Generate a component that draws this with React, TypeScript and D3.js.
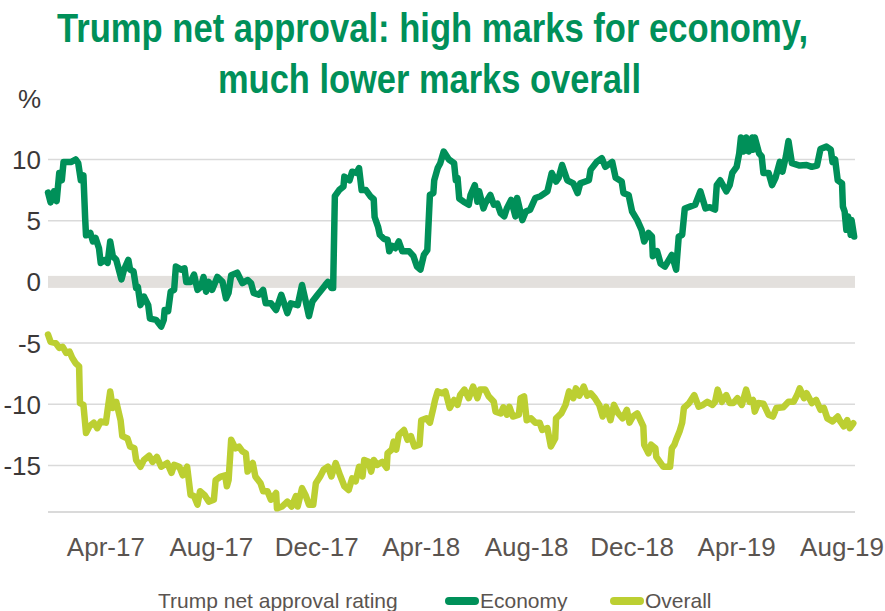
import { useEffect, useRef } from 'react';
import * as d3 from 'd3';

const ECON_COLOR = '#009059';
const OVERALL_COLOR = '#BCCF32';

const economyDates = [
  '2017-01-24', '2017-01-27', '2017-01-31', '2017-02-03', '2017-02-06', '2017-02-09', '2017-02-11', '2017-02-20',
  '2017-02-25', '2017-02-28', '2017-03-03', '2017-03-06', '2017-03-08', '2017-03-09', '2017-03-14', '2017-03-17',
  '2017-03-20', '2017-03-24', '2017-03-26', '2017-03-31', '2017-04-03', '2017-04-06', '2017-04-09', '2017-04-13',
  '2017-04-16', '2017-04-19', '2017-04-22', '2017-04-27', '2017-04-29', '2017-05-03', '2017-05-06', '2017-05-08',
  '2017-05-11', '2017-05-15', '2017-05-20', '2017-05-22', '2017-05-29', '2017-06-04', '2017-06-07', '2017-06-08',
  '2017-06-12', '2017-06-15', '2017-06-19', '2017-06-21', '2017-06-27', '2017-07-01', '2017-07-03', '2017-07-08',
  '2017-07-12', '2017-07-16', '2017-07-20', '2017-07-23', '2017-07-26', '2017-07-29', '2017-08-02', '2017-08-08',
  '2017-08-14', '2017-08-18', '2017-08-21', '2017-08-24', '2017-08-31', '2017-09-06', '2017-09-12', '2017-09-16',
  '2017-09-19', '2017-09-25', '2017-09-30', '2017-10-03', '2017-10-09', '2017-10-15', '2017-10-21', '2017-10-28',
  '2017-11-01', '2017-11-09', '2017-11-14', '2017-11-18', '2017-11-22', '2017-11-26', '2017-12-02', '2017-12-06',
  '2017-12-11', '2017-12-14', '2017-12-18', '2017-12-20', '2017-12-22', '2017-12-27', '2018-01-01', '2018-01-02',
  '2018-01-08', '2018-01-11', '2018-01-16', '2018-01-19', '2018-01-22', '2018-01-27', '2018-02-01', '2018-02-05',
  '2018-02-06', '2018-02-10', '2018-02-12', '2018-02-17', '2018-02-21', '2018-02-23', '2018-02-26', '2018-03-02',
  '2018-03-06', '2018-03-10', '2018-03-18', '2018-03-23', '2018-03-27', '2018-03-31', '2018-04-04', '2018-04-08',
  '2018-04-11', '2018-04-15', '2018-04-16', '2018-04-20', '2018-04-23', '2018-04-27', '2018-05-03', '2018-05-09',
  '2018-05-11', '2018-05-13', '2018-05-15', '2018-05-20', '2018-05-26', '2018-05-28', '2018-06-02', '2018-06-05',
  '2018-06-07', '2018-06-12', '2018-06-14', '2018-06-20', '2018-06-24', '2018-06-28', '2018-07-02', '2018-07-06',
  '2018-07-09', '2018-07-14', '2018-07-19', '2018-07-21', '2018-07-27', '2018-07-31', '2018-08-05', '2018-08-11',
  '2018-08-17', '2018-08-25', '2018-08-30', '2018-09-04', '2018-09-07', '2018-09-11', '2018-09-17', '2018-09-24',
  '2018-09-29', '2018-10-02', '2018-10-12', '2018-10-14', '2018-10-21', '2018-10-27', '2018-10-31', '2018-11-08',
  '2018-11-12', '2018-11-19', '2018-11-21', '2018-11-27', '2018-12-01', '2018-12-07', '2018-12-12', '2018-12-15',
  '2018-12-20', '2018-12-24', '2018-12-25', '2018-12-30', '2019-01-03', '2019-01-08', '2019-01-16', '2019-01-21',
  '2019-01-24', '2019-01-28', '2019-01-31', '2019-02-06', '2019-02-12', '2019-02-18', '2019-02-24', '2019-03-01',
  '2019-03-07', '2019-03-09', '2019-03-13', '2019-03-20', '2019-03-24', '2019-03-27', '2019-04-01', '2019-04-04',
  '2019-04-06', '2019-04-09', '2019-04-12', '2019-04-15', '2019-04-19', '2019-04-20', '2019-04-22', '2019-04-27',
  '2019-04-30', '2019-05-02', '2019-05-08', '2019-05-12', '2019-05-16', '2019-05-21', '2019-05-24', '2019-05-28',
  '2019-05-31', '2019-06-04', '2019-06-13', '2019-06-21', '2019-06-27', '2019-07-03', '2019-07-07', '2019-07-14',
  '2019-07-19', '2019-07-21', '2019-07-24', '2019-07-27', '2019-08-01', '2019-08-02', '2019-08-04', '2019-08-06',
  '2019-08-08', '2019-08-11', '2019-08-12', '2019-08-15',
];
const economyValues = [
  7.3, 6.5, 7.4, 6.6, 8.9, 8.3, 9.8, 9.8,
  10.0, 9.7, 8.3, 8.7, 5.2, 3.8, 4.0, 3.3,
  3.6, 2.75, 1.55, 1.8, 1.55, 3.3, 2.1, 1.8,
  1.0, 0.2, 1.0, 1.8, 1.0, 0.85, -0.5, -0.4,
  -1.9, -1.2, -1.9, -3.0, -3.1, -3.65, -3.1, -2.3,
  -2.4, -0.8, -0.65, 1.25, 1.0, 1.1, 0.0, 0.0,
  0.6, -0.65, -0.4, 0.4, -0.8, 0.0, -0.65, 0.4,
  0.0, -1.35, -0.9, 0.55, 0.75, -0.1, 0.15, -0.1,
  -0.9, -1.05, -0.65, -1.75, -1.75, -2.3, -1.05, -2.55,
  -1.75, -1.9, -0.25, -1.5, -2.8, -1.6, -1.05, -0.7,
  -0.25, 0.0, -0.5, -0.5, 7.0, 7.5, 7.8, 8.6,
  8.3, 9.0, 8.9, 9.3, 7.5, 7.5, 7.0, 6.75,
  5.3, 4.5, 3.85, 3.5, 3.45, 2.5, 2.95, 2.75,
  3.3, 2.5, 2.5, 2.1, 1.25, 1.0, 2.2, 2.6,
  7.1, 7.25, 8.3, 9.3, 9.7, 10.65, 10.0, 9.7,
  8.3, 8.5, 6.8, 6.55, 6.3, 7.1, 7.9, 6.55,
  7.4, 6.0, 6.4, 7.1, 6.3, 6.4, 5.6, 5.35,
  6.0, 6.7, 5.35, 6.85, 5.05, 5.75, 5.9, 6.85,
  7.0, 7.4, 8.9, 8.2, 8.5, 9.55, 8.3, 8.05,
  7.25, 8.05, 8.3, 9.15, 9.8, 10.1, 9.4, 9.8,
  8.5, 8.2, 7.25, 7.1, 5.75, 5.05, 4.25, 3.3,
  4.0, 3.7, 2.1, 2.5, 1.5, 1.25, 2.2, 1.0,
  3.7, 3.85, 6.0, 6.15, 6.3, 7.4, 6.0, 6.1,
  5.9, 7.9, 8.3, 7.4, 7.9, 8.9, 9.4, 10.5,
  11.8, 10.65, 11.8, 10.65, 11.8, 10.8, 11.8, 10.5,
  10.25, 8.9, 8.9, 7.9, 8.5, 9.8, 9.0, 10.25,
  11.5, 9.7, 9.5, 9.55, 9.4, 9.5, 10.85, 11.05,
  10.8, 9.8, 10.0, 8.3, 8.05, 6.15, 5.75, 4.25,
  5.35, 3.85, 5.05, 3.7,
];

const overallDates = [
  '2017-01-24', '2017-01-27', '2017-02-02', '2017-02-06', '2017-02-10', '2017-02-14', '2017-02-18', '2017-02-21',
  '2017-02-25', '2017-03-01', '2017-03-02', '2017-03-06', '2017-03-09', '2017-03-13', '2017-03-18', '2017-03-22',
  '2017-03-26', '2017-04-01', '2017-04-03', '2017-04-06', '2017-04-09', '2017-04-13', '2017-04-18', '2017-04-20',
  '2017-04-26', '2017-04-29', '2017-05-04', '2017-05-06', '2017-05-11', '2017-05-15', '2017-05-21', '2017-05-25',
  '2017-05-30', '2017-06-04', '2017-06-11', '2017-06-16', '2017-06-19', '2017-06-25', '2017-06-29', '2017-07-04',
  '2017-07-08', '2017-07-12', '2017-07-16', '2017-07-19', '2017-07-24', '2017-07-29', '2017-08-04', '2017-08-06',
  '2017-08-12', '2017-08-17', '2017-08-19', '2017-08-21', '2017-08-24', '2017-08-29', '2017-09-02', '2017-09-06',
  '2017-09-10', '2017-09-12', '2017-09-18', '2017-09-21', '2017-09-27', '2017-09-30', '2017-10-05', '2017-10-09',
  '2017-10-15', '2017-10-16', '2017-10-22', '2017-10-28', '2017-11-02', '2017-11-07', '2017-11-09', '2017-11-14',
  '2017-11-18', '2017-11-22', '2017-11-27', '2017-11-30', '2017-12-05', '2017-12-09', '2017-12-14', '2017-12-18',
  '2017-12-23', '2017-12-28', '2018-01-02', '2018-01-07', '2018-01-11', '2018-01-15', '2018-01-19', '2018-01-23',
  '2018-01-25', '2018-01-30', '2018-02-02', '2018-02-05', '2018-02-09', '2018-02-15', '2018-02-20', '2018-02-21',
  '2018-02-26', '2018-02-28', '2018-03-03', '2018-03-06', '2018-03-12', '2018-03-16', '2018-03-20', '2018-03-24',
  '2018-03-30', '2018-04-01', '2018-04-07', '2018-04-11', '2018-04-15', '2018-04-17', '2018-04-20', '2018-04-25',
  '2018-04-29', '2018-05-04', '2018-05-09', '2018-05-13', '2018-05-16', '2018-05-21', '2018-05-26', '2018-05-31',
  '2018-06-05', '2018-06-08', '2018-06-14', '2018-06-18', '2018-06-24', '2018-06-26', '2018-07-02', '2018-07-05',
  '2018-07-09', '2018-07-12', '2018-07-16', '2018-07-23', '2018-07-25', '2018-07-29', '2018-08-01', '2018-08-06',
  '2018-08-11', '2018-08-16', '2018-08-19', '2018-08-25', '2018-08-29', '2018-09-03', '2018-09-04', '2018-09-10',
  '2018-09-15', '2018-09-19', '2018-09-24', '2018-09-27', '2018-10-01', '2018-10-06', '2018-10-10', '2018-10-14',
  '2018-10-19', '2018-10-24', '2018-10-28', '2018-11-01', '2018-11-06', '2018-11-10', '2018-11-15', '2018-11-20',
  '2018-11-25', '2018-11-28', '2018-12-02', '2018-12-07', '2018-12-14', '2018-12-15', '2018-12-20', '2018-12-23',
  '2018-12-28', '2018-12-29', '2019-01-06', '2019-01-14', '2019-01-16', '2019-01-19', '2019-01-21', '2019-01-25',
  '2019-01-28', '2019-01-30', '2019-02-05', '2019-02-11', '2019-02-16', '2019-02-21', '2019-02-26', '2019-03-04',
  '2019-03-07', '2019-03-10', '2019-03-15', '2019-03-20', '2019-03-24', '2019-03-28', '2019-04-02', '2019-04-07',
  '2019-04-12', '2019-04-16', '2019-04-20', '2019-04-22', '2019-04-26', '2019-05-02', '2019-05-08', '2019-05-13',
  '2019-05-17', '2019-05-25', '2019-05-31', '2019-06-06', '2019-06-10', '2019-06-13', '2019-06-18', '2019-06-21',
  '2019-06-27', '2019-07-02', '2019-07-07', '2019-07-11', '2019-07-15', '2019-07-21', '2019-07-27', '2019-07-30',
  '2019-08-03', '2019-08-07', '2019-08-10', '2019-08-14',
];
const overallValues = [
  -4.3, -4.9, -5.0, -5.4, -5.3, -5.8, -5.7, -6.2,
  -6.65, -6.9, -9.9, -10.05, -12.35, -11.8, -11.5, -11.95,
  -11.4, -11.5, -10.45, -8.95, -10.3, -9.8, -11.3, -12.6,
  -12.8, -13.45, -13.6, -14.55, -15.1, -14.55, -14.2, -14.7,
  -14.3, -15.1, -14.8, -15.6, -14.95, -15.1, -15.8, -15.1,
  -17.4, -17.5, -18.2, -17.1, -17.4, -17.95, -17.8, -16.2,
  -15.9, -15.8, -16.7, -16.2, -12.9, -13.6, -13.45, -13.85,
  -14.0, -15.5, -14.8, -15.9, -16.45, -17.1, -17.1, -17.8,
  -17.25, -18.5, -18.35, -17.95, -18.35, -17.5, -18.35, -16.85,
  -17.4, -18.2, -18.2, -16.45, -15.9, -15.35, -15.1, -15.9,
  -14.8, -15.8, -16.7, -17.0, -16.05, -16.3, -15.1, -15.9,
  -14.55, -14.7, -15.5, -14.55, -14.95, -14.7, -15.2, -14.0,
  -13.7, -13.05, -13.7, -12.5, -12.1, -12.9, -12.6, -13.45,
  -13.3, -11.3, -11.15, -11.5, -10.3, -9.65, -8.95, -9.1,
  -8.95, -10.3, -9.65, -10.05, -9.25, -8.8, -9.5, -8.55,
  -9.5, -8.8, -8.8, -9.35, -9.8, -10.6, -10.75, -10.25,
  -10.85, -10.2, -11.0, -10.85, -9.5, -9.35, -11.3, -11.15,
  -11.5, -11.5, -12.1, -11.95, -13.45, -12.8, -11.15, -10.75,
  -10.05, -8.95, -9.5, -8.7, -9.3, -8.55, -9.3, -9.1,
  -9.5, -10.05, -11.0, -10.2, -11.3, -10.05, -10.75, -11.15,
  -10.45, -11.5, -11.0, -10.75, -11.8, -13.3, -14.0, -13.3,
  -13.6, -14.3, -15.1, -15.1, -13.6, -13.3, -12.9, -12.2,
  -11.5, -10.3, -9.9, -9.25, -10.2, -10.05, -9.8, -10.05,
  -9.8, -8.8, -9.8, -9.25, -9.9, -9.9, -9.5, -10.05,
  -8.8, -9.8, -9.65, -10.6, -9.9, -9.95, -10.85, -11.0,
  -10.3, -10.25, -9.8, -9.8, -9.25, -8.7, -9.5, -9.1,
  -9.9, -9.65, -10.45, -10.3, -11.15, -11.4, -11.0, -11.4,
  -11.8, -11.3, -11.95, -11.55,
];

const tickDates = ['2017-04-01', '2017-08-01', '2017-12-01', '2018-04-01', '2018-08-01', '2018-12-01', '2019-04-01', '2019-08-01'];
const tickLabels = ['Apr-17', 'Aug-17', 'Dec-17', 'Apr-18', 'Aug-18', 'Dec-18', 'Apr-19', 'Aug-19'];
const yTicks = [10, 5, -5, -10, -15];
const titleLines = ['Trump net approval: high marks for economy,', 'much lower marks overall'];

export default function App() {
  const svgRef = useRef<SVGSVGElement>(null);

  useEffect(() => {
    if (!svgRef.current) return;
    const W = 885;
    const H = 611;
    const parse = d3.timeParse('%Y-%m-%d');

    const svg = d3.select(svgRef.current);
    svg.selectAll('*').remove();
    svg.attr('width', W).attr('height', H).attr('viewBox', `0 0 ${W} ${H}`);

    const x = d3.scaleTime()
      .domain([parse('2017-01-24')!, parse('2019-08-16')!])
      .range([48, 855]);
    const y = d3.scaleLinear().domain([-18.8, 12]).range([512, 135]);
    const [x0, x1] = x.range();

    // Title
    svg.append('text')
      .attr('x', 57).attr('y', 42)
      .attr('font-family', 'Liberation Sans, Arial, sans-serif')
      .attr('font-weight', 700).attr('font-size', 41)
      .attr('fill', ECON_COLOR)
      .attr('textLength', 751).attr('lengthAdjust', 'spacingAndGlyphs')
      .text(titleLines[0]);
    svg.append('text')
      .attr('x', 218).attr('y', 93)
      .attr('font-family', 'Liberation Sans, Arial, sans-serif')
      .attr('font-weight', 700).attr('font-size', 41)
      .attr('fill', ECON_COLOR)
      .attr('textLength', 423).attr('lengthAdjust', 'spacingAndGlyphs')
      .text(titleLines[1]);

    // Gridlines
    svg.append('g')
      .selectAll('line')
      .data(yTicks)
      .join('line')
      .attr('x1', x0).attr('x2', x1)
      .attr('y1', d => y(d)).attr('y2', d => y(d))
      .attr('stroke', '#DADADA').attr('stroke-width', 1.5);

    // zero band
    svg.append('rect')
      .attr('x', x0).attr('width', x1 - x0)
      .attr('y', y(0) - 6).attr('height', 12)
      .attr('fill', '#E3E0DD');

    // bottom axis line
    svg.append('line')
      .attr('x1', x0).attr('x2', x1)
      .attr('y1', y(-18.8)).attr('y2', y(-18.8))
      .attr('stroke', '#DADADA').attr('stroke-width', 2);

    // Y labels
    svg.append('g')
      .selectAll('text')
      .data([10, 5, 0, -5, -10, -15])
      .join('text')
      .attr('x', 41)
      .attr('y', d => y(d) + 9.5)
      .attr('text-anchor', 'end')
      .attr('font-family', 'Liberation Sans, Arial, sans-serif')
      .attr('font-size', 26)
      .attr('fill', '#3b3838')
      .text(d => String(d));
    svg.append('text')
      .attr('x', 41).attr('y', 108)
      .attr('text-anchor', 'end')
      .attr('font-family', 'Liberation Sans, Arial, sans-serif')
      .attr('font-size', 26)
      .attr('fill', '#3b3838')
      .text('%');

    // X labels
    svg.append('g')
      .selectAll('text')
      .data(tickDates)
      .join('text')
      .attr('x', d => x(parse(d)!))
      .attr('y', 556)
      .attr('text-anchor', 'middle')
      .attr('font-family', 'Liberation Sans, Arial, sans-serif')
      .attr('font-size', 26)
      .attr('fill', '#5a5450')
      .text((d, i) => tickLabels[i]);

    // Lines
    const line = d3.line<[Date, number]>()
      .x(d => x(d[0]))
      .y(d => y(d[1]));

    const overall: [Date, number][] = overallDates.map((d, i) => [parse(d)!, overallValues[i]]);
    const economy: [Date, number][] = economyDates.map((d, i) => [parse(d)!, economyValues[i]]);

    svg.append('path')
      .datum(overall)
      .attr('d', line)
      .attr('fill', 'none')
      .attr('stroke', OVERALL_COLOR)
      .attr('stroke-width', 6.5)
      .attr('stroke-linejoin', 'round')
      .attr('stroke-linecap', 'round');

    svg.append('path')
      .datum(economy)
      .attr('d', line)
      .attr('fill', 'none')
      .attr('stroke', ECON_COLOR)
      .attr('stroke-width', 6.5)
      .attr('stroke-linejoin', 'round')
      .attr('stroke-linecap', 'round');

    // Legend
    const lg = svg.append('g')
      .attr('font-family', 'Liberation Sans, Arial, sans-serif')
      .attr('font-size', 21)
      .attr('fill', '#5a5450');
    lg.append('text').attr('x', 158).attr('y', 608).text('Trump net approval rating');
    const items = [
      { label: 'Economy', color: ECON_COLOR, x: 445 },
      { label: 'Overall', color: OVERALL_COLOR, x: 610 },
    ];
    items.forEach(it => {
      lg.append('line')
        .attr('x1', it.x + 4).attr('x2', it.x + 30)
        .attr('y1', 601).attr('y2', 601)
        .attr('stroke', it.color)
        .attr('stroke-width', 8)
        .attr('stroke-linecap', 'round');
      lg.append('text').attr('x', it.x + 35).attr('y', 608).text(it.label);
    });
  }, []);

  return (
    <div style={{ position: 'absolute', left: 0, top: 0, background: '#fff' }}>
      <svg ref={svgRef} style={{ display: 'block' }} />
    </div>
  );
}
